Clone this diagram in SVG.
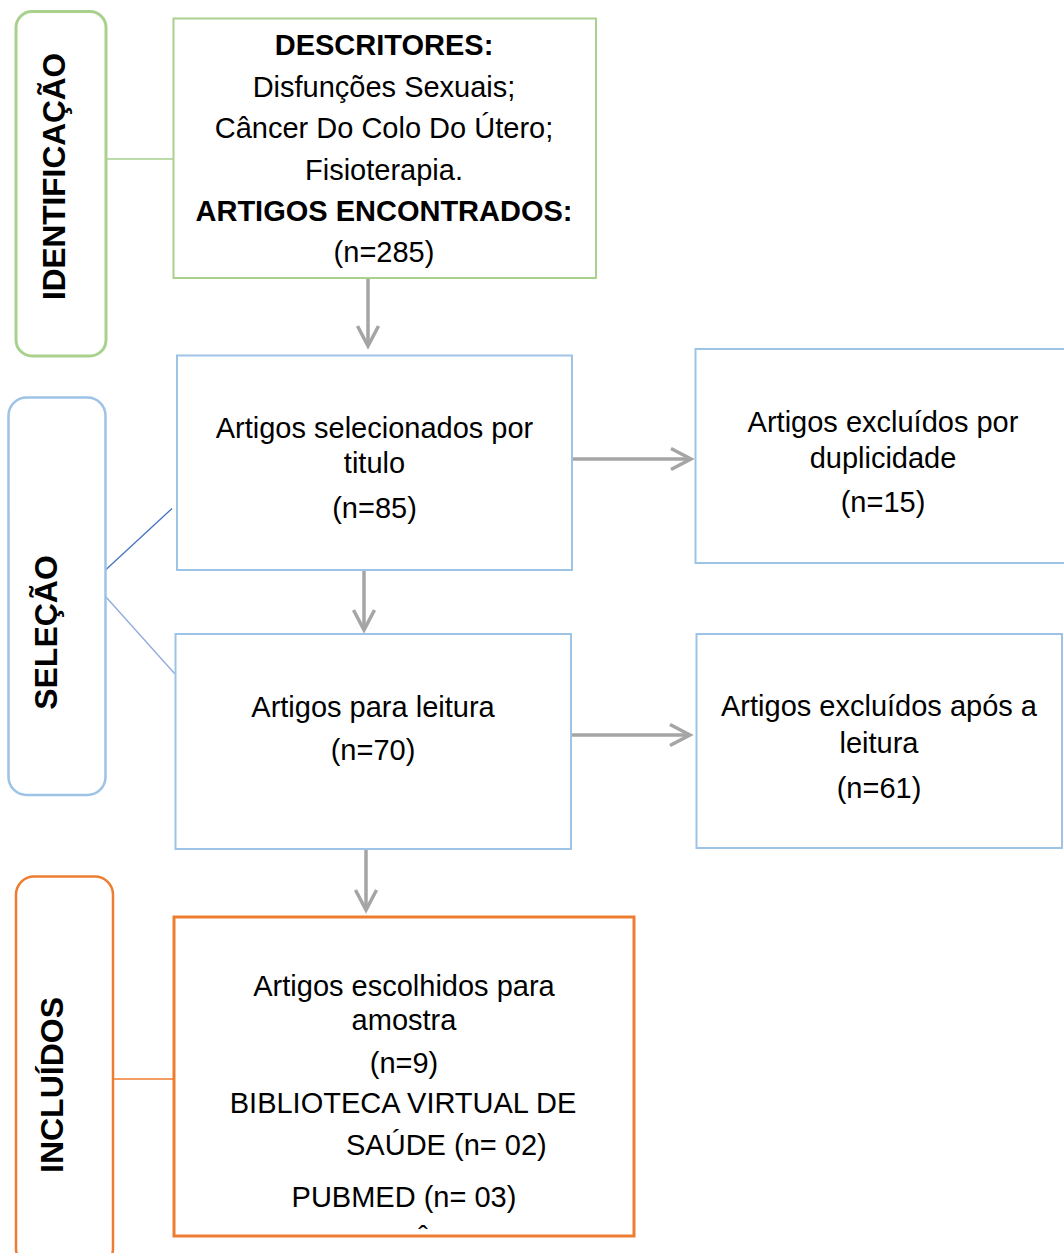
<svg xmlns="http://www.w3.org/2000/svg" width="1064" height="1253" viewBox="0 0 1064 1253">
<style>
text{font-family:"Liberation Sans",Arial,sans-serif;font-size:29px;fill:#000;text-anchor:middle}
.b{font-weight:bold}
.v{font-weight:bold;font-size:32px}
.g{fill:#fff;stroke:#A9D18E}
.bl{fill:#fff;stroke:#9DC3E6}
.o{fill:#fff;stroke:#ED7D31}
.arr{stroke:#A5A5A5;stroke-width:3.5;fill:none;marker-end:url(#ah)}
</style>
<defs>
<marker id="ah" markerUnits="userSpaceOnUse" viewBox="-25 -15 30 30" markerWidth="30" markerHeight="30" refX="0" refY="0" orient="auto">
<path d="M-20,-10.5 L0,0 L-20,10.5" fill="none" stroke="#A5A5A5" stroke-width="3.5"/>
</marker>
</defs>
<rect width="1064" height="1253" fill="#fff"/>

<g id="connectors">
<line x1="106" y1="159" x2="173" y2="159" stroke="#A9D18E" stroke-width="1.5"/>
<line x1="105.5" y1="570" x2="172" y2="508.5" stroke="#4472C4" stroke-width="1.3"/>
<line x1="106" y1="597" x2="175" y2="674" stroke="#8FAADC" stroke-width="1.3"/>
<line x1="113" y1="1079" x2="174" y2="1079" stroke="#ED7D31" stroke-width="1.5"/>
<line class="arr" x1="368" y1="279" x2="368" y2="346"/>
<line class="arr" x1="572" y1="459" x2="691" y2="459"/>
<line class="arr" x1="364" y1="570" x2="364" y2="630"/>
<line class="arr" x1="572" y1="735" x2="690" y2="735"/>
<line class="arr" x1="366" y1="849" x2="366" y2="910"/>
</g>

<g id="lbl-identificacao">
<rect class="g" x="16" y="11.5" width="90" height="344.5" rx="16" stroke-width="3"/>
<text class="v" transform="translate(65,176.5) rotate(-90)" textLength="247" lengthAdjust="spacingAndGlyphs">IDENTIFICAÇÃO</text>
</g>

<g id="box-descritores">
<rect class="g" x="173.5" y="18.5" width="422.5" height="259.5" stroke-width="2"/>
<text class="b" x="384" y="55">DESCRITORES:</text>
<text x="384" y="97">Disfunções Sexuais;</text>
<text x="384" y="138">Câncer Do Colo Do Útero;</text>
<text x="384" y="180">Fisioterapia.</text>
<text class="b" x="384" y="221">ARTIGOS ENCONTRADOS:</text>
<text x="384" y="262">(n=285)</text>
</g>

<g id="lbl-selecao">
<rect class="bl" x="8.5" y="397.5" width="97" height="397.5" rx="18" stroke-width="2.5"/>
<text class="v" transform="translate(57,632.5) rotate(-90)">SELEÇÃO</text>
</g>

<g id="box-titulo">
<rect class="bl" x="177" y="355.5" width="395" height="214.5" stroke-width="2"/>
<text x="374.5" y="438">Artigos selecionados por</text>
<text x="374.5" y="473">titulo</text>
<text x="374.5" y="518">(n=85)</text>
</g>

<g id="box-duplicidade">
<rect class="bl" x="695.5" y="349" width="372" height="214" stroke-width="2"/>
<text x="883" y="432">Artigos excluídos por</text>
<text x="883" y="468">duplicidade</text>
<text x="883" y="512">(n=15)</text>
</g>

<g id="box-leitura">
<rect class="bl" x="175.5" y="634" width="395.5" height="215" stroke-width="2"/>
<text x="373" y="717">Artigos para leitura</text>
<text x="373" y="760">(n=70)</text>
</g>

<g id="box-excluidos-leitura">
<rect class="bl" x="696.5" y="634" width="365.5" height="214" stroke-width="2"/>
<text x="879" y="716">Artigos excluídos após a</text>
<text x="879" y="753">leitura</text>
<text x="879" y="798">(n=61)</text>
</g>

<g id="lbl-incluidos">
<rect class="o" x="16" y="876.5" width="97" height="390" rx="18" stroke-width="2.5"/>
<text class="v" transform="translate(63,1085) rotate(-90)">INCLUÍDOS</text>
</g>

<g id="box-amostra">
<rect class="o" x="174" y="917" width="460" height="319" stroke-width="3"/>
<text x="404" y="996">Artigos escolhidos para</text>
<text x="404" y="1030">amostra</text>
<text x="404" y="1073">(n=9)</text>
<text x="403" y="1113">BIBLIOTECA VIRTUAL DE</text>
<text x="346" y="1155" style="text-anchor:start">SAÚDE (n= 02)</text>
<text x="404" y="1207">PUBMED (n= 03)</text>
<text x="423" y="1246">ˆ</text>
</g>
</svg>
